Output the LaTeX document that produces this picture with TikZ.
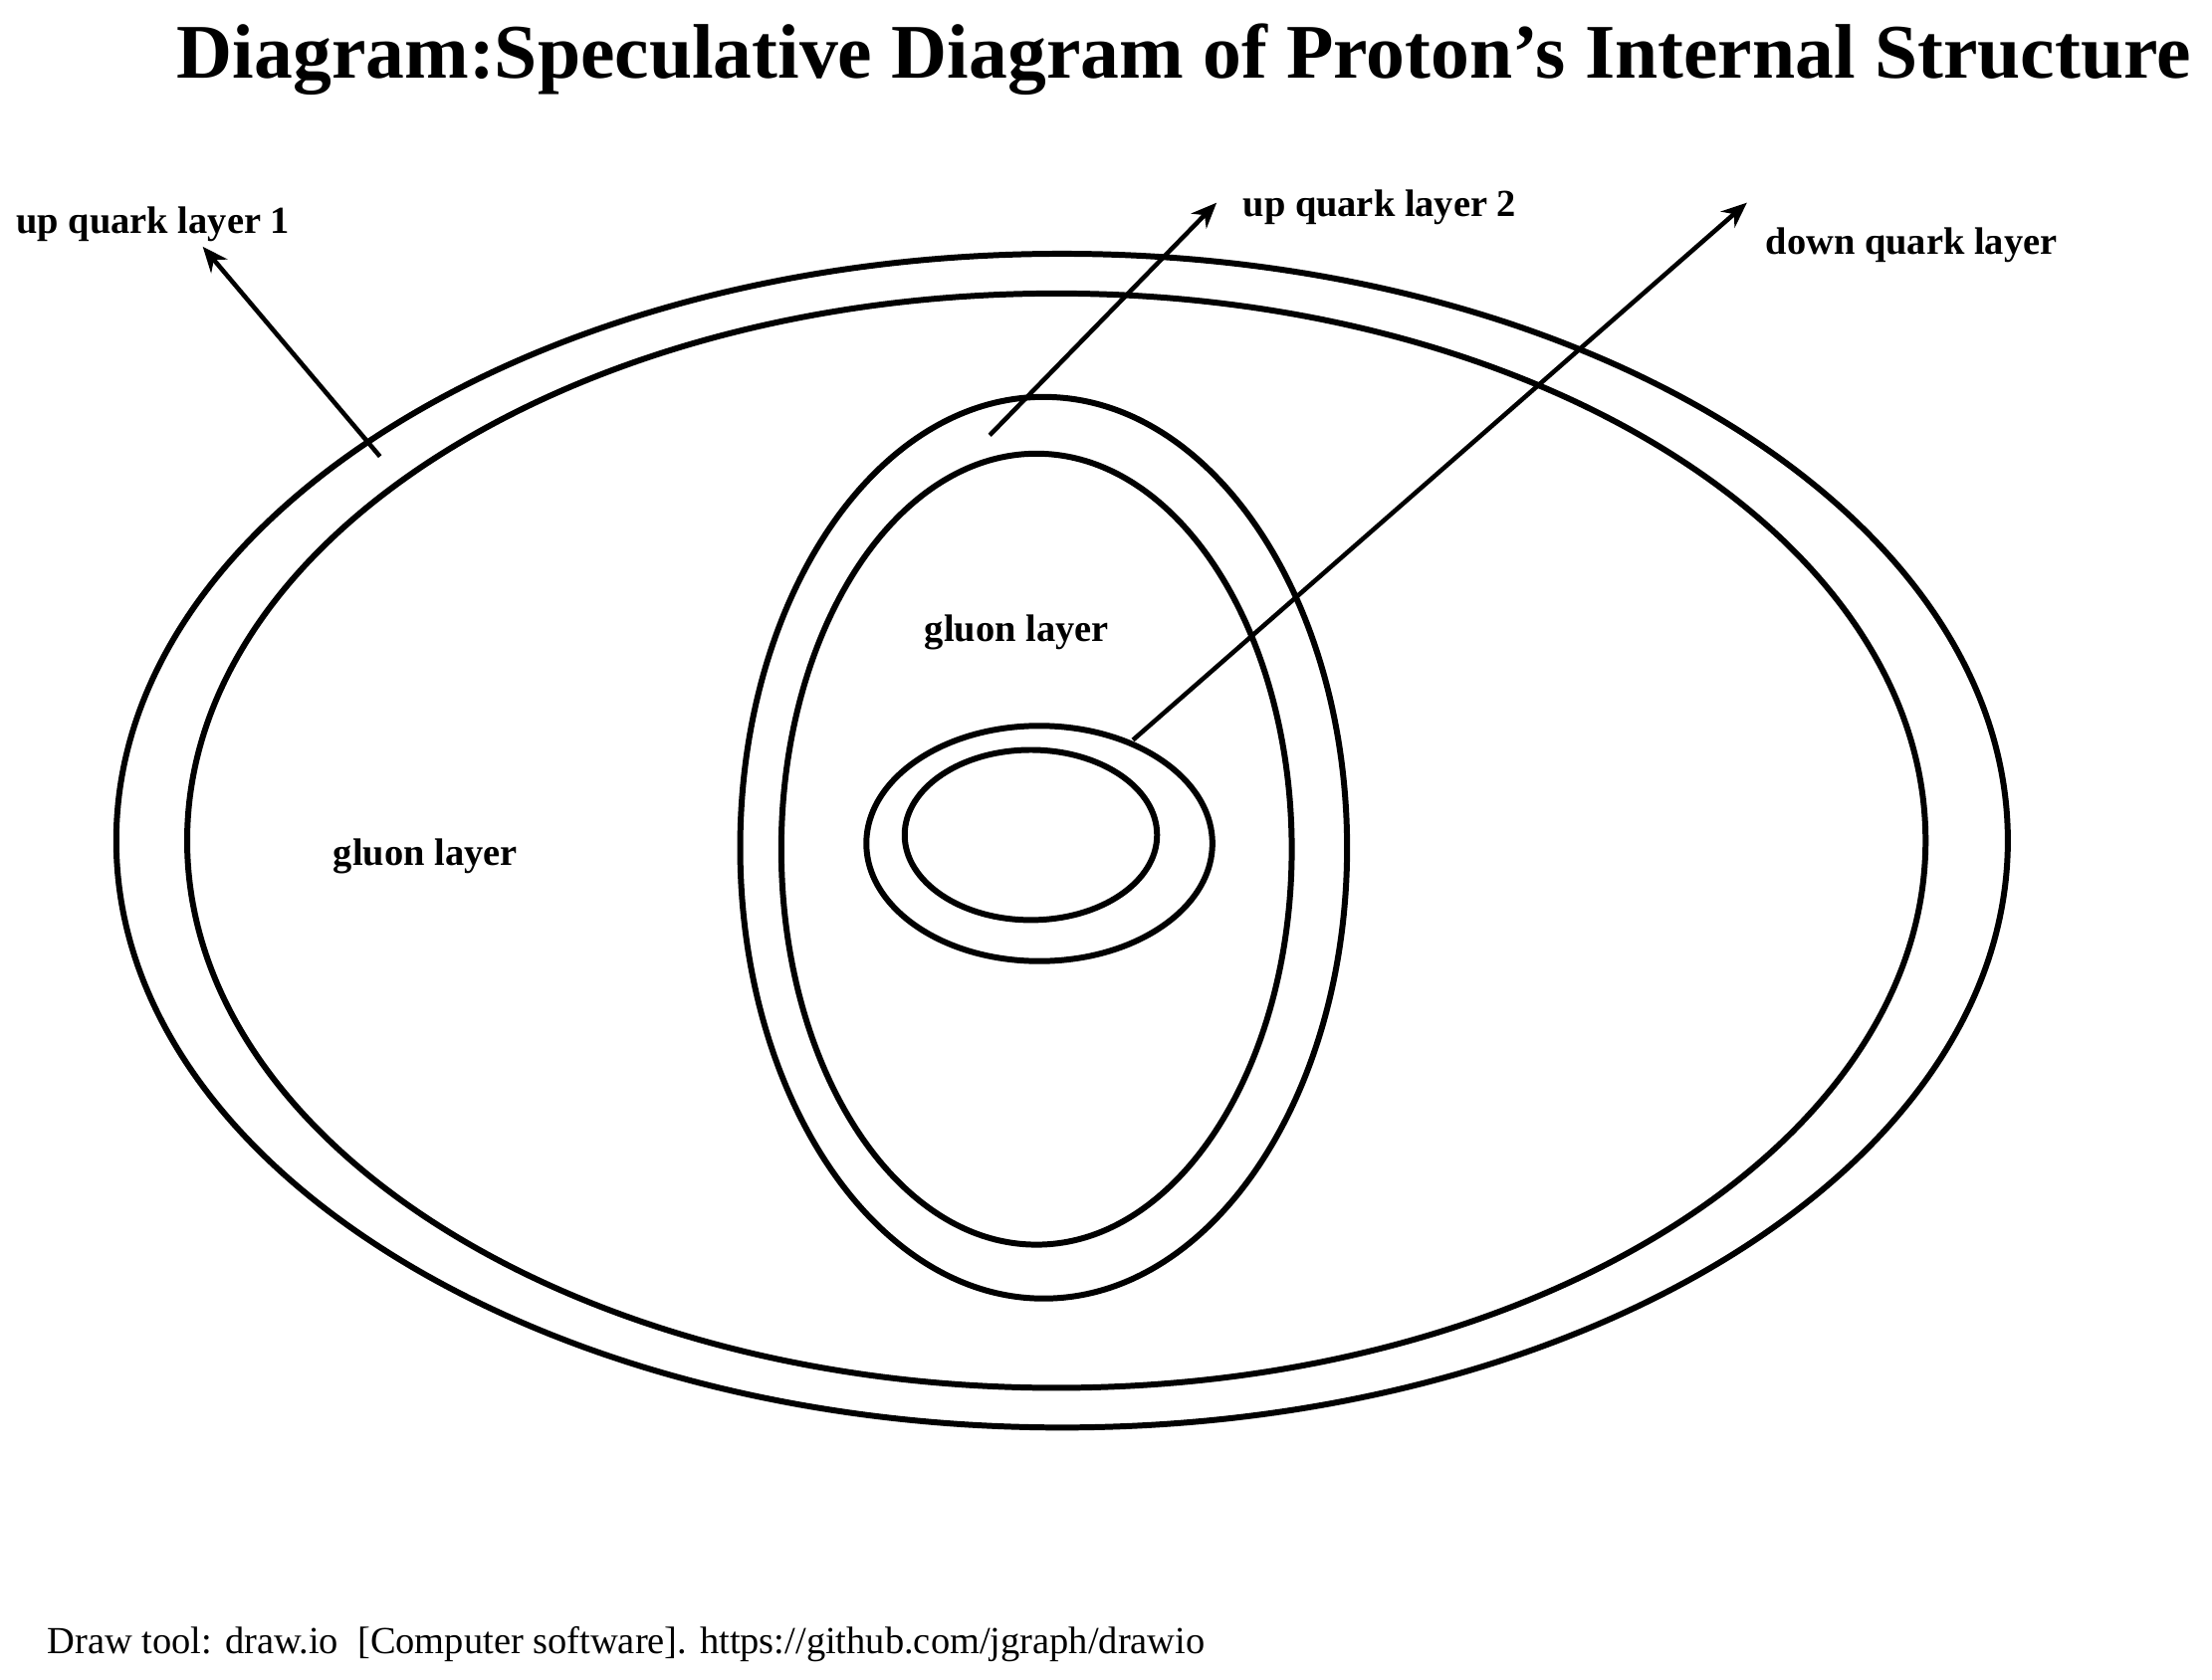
\documentclass[tikz,border=0pt]{standalone}
\usepackage{fontspec}
\setmainfont{Liberation Serif}
\usetikzlibrary{arrows.meta}
\begin{document}
\begin{tikzpicture}[x=1pt,y=-1pt,
  ring/.style={line width=4.2pt},
  arr/.style={line width=3.2pt,-{Stealth[length=18pt,width=15pt]}},
  lbl/.style={font=\fontsize{27}{30}\selectfont\bfseries}]
\useasboundingbox (0,0) rectangle (1560,1185);
\node[font=\fontsize{54.5}{60}\selectfont\bfseries] (title) at (835,42) {Diagram:Speculative Diagram of Proton{\char"27}s Internal Structure};
\draw[ring] (749,593) ellipse [x radius=667,y radius=414];
\draw[ring] (745,593) ellipse [x radius=613,y radius=386];
\draw[ring] (736,598) ellipse [x radius=214,y radius=318];
\draw[ring] (731,599) ellipse [x radius=180,y radius=279];
\draw[ring] (733,595) ellipse [x radius=122,y radius=83];
\draw[ring] (727,589) ellipse [x radius=89,y radius=60];
\coordinate (s1) at (268,322); \coordinate (e1) at (143,174);
\coordinate (s2) at (698,307); \coordinate (e2) at (858,143);
\coordinate (s3) at (799,522); \coordinate (e3) at (1232,143);
\draw[arr] (s1) -- (e1);
\draw[arr] (s2) -- (e2);
\draw[arr] (s3) -- (e3);
\node[lbl] (l1) at (108,158) {up quark layer 1};
\node[lbl] (l2) at (973,146) {up quark layer 2};
\node[lbl] (l3) at (1348,173) {down quark layer};
\node[lbl] (g1) at (717,446) {gluon layer};
\node[lbl] (g2) at (300,604) {gluon layer};
\node[anchor=west,font=\fontsize{27}{31}\selectfont] (foot) at (30,1160) {Draw tool: draw.io\ \ [Computer software]. https://github.com/jgraph/drawio};
\end{tikzpicture}
\end{document}
